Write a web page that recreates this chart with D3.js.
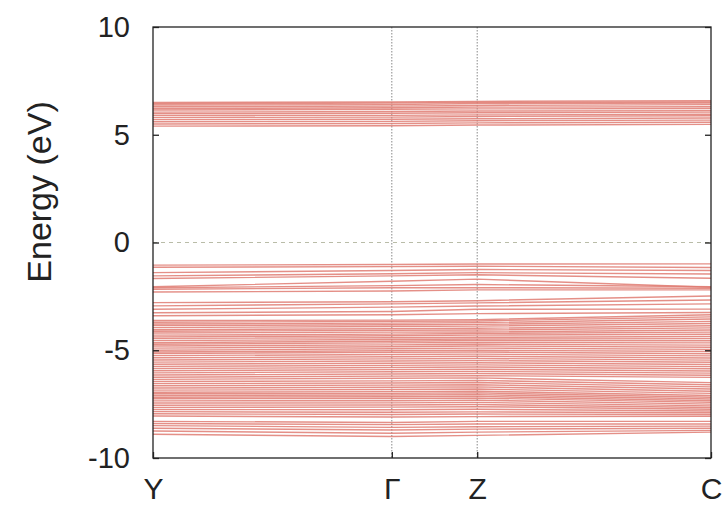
<!DOCTYPE html>
<html><head><meta charset="utf-8">
<script src="https://cdn.jsdelivr.net/npm/d3@7"></script>
<style>body{margin:0;background:#fff}svg{display:block}</style>
</head><body>
<script>
// high-symmetry k-points (fractional path positions) and labels
const kLabels = ["Y", "Γ", "Z", "C"];
const kPos = [0, 0.428, 0.581, 1];
const yTicks = [10, 5, 0, -5, -10];

// band energies (eV) at Y, Γ, Z, C
const conductionBands = [
  [6.50, 6.52, 6.55, 6.58], [6.44, 6.47, 6.50, 6.52], [6.38, 6.40, 6.45, 6.47],
  [6.30, 6.33, 6.36, 6.40], [6.22, 6.25, 6.28, 6.30], [6.15, 6.18, 6.20, 6.22],
  [6.05, 6.08, 6.10, 6.12], [5.98, 6.00, 6.02, 6.05], [5.90, 5.90, 5.92, 5.95],
  [5.80, 5.82, 5.85, 5.88], [5.70, 5.72, 5.74, 5.78], [5.60, 5.62, 5.65, 5.68],
  [5.50, 5.52, 5.55, 5.58], [5.40, 5.42, 5.45, 5.48]
];
const upperValenceBands = [
  [-1.05, -1.02, -1.00, -0.99], [-1.15, -1.12, -1.10, -1.16], [-1.40, -1.30, -1.25, -1.30],
  [-1.55, -1.45, -1.40, -1.46], [-1.67, -1.55, -1.50, -1.66], [-2.05, -1.80, -1.70, -2.08],
  [-2.10, -2.00, -1.95, -2.05], [-2.17, -2.10, -2.10, -2.12], [-2.30, -2.25, -2.20, -2.20],
  [-2.79, -2.75, -2.70, -2.48], [-2.94, -2.85, -2.80, -2.67], [-3.10, -3.00, -2.95, -2.85],
  [-3.26, -3.20, -3.10, -3.09], [-3.40, -3.35, -3.30, -3.25]
];
const lowerValenceBands = [
  [-3.62, -3.60, -3.58, -3.35], [-3.70, -3.66, -3.64, -3.45], [-3.78, -3.74, -3.72, -3.55],
  [-3.85, -3.82, -3.80, -3.66], [-3.95, -3.90, -3.88, -3.76], [-4.05, -4.00, -3.98, -3.86],
  [-4.12, -4.08, -4.06, -3.96], [-4.20, -4.16, -4.15, -4.06], [-4.30, -4.25, -4.22, -4.16],
  [-4.38, -4.33, -4.30, -4.26], [-4.45, -4.42, -4.40, -4.36], [-4.55, -4.50, -4.48, -4.46],
  [-4.65, -4.58, -4.55, -4.56], [-4.72, -4.66, -4.64, -4.66], [-4.80, -4.75, -4.72, -4.76],
  [-4.90, -4.84, -4.80, -4.86], [-5.00, -4.93, -4.90, -4.96], [-5.08, -5.02, -5.00, -5.06],
  [-5.15, -5.10, -5.08, -5.16], [-5.25, -5.20, -5.18, -5.26], [-5.35, -5.30, -5.28, -5.36],
  [-5.45, -5.40, -5.38, -5.46], [-5.55, -5.50, -5.48, -5.56], [-5.65, -5.60, -5.58, -5.66],
  [-5.75, -5.70, -5.68, -5.76], [-5.85, -5.80, -5.78, -5.86], [-5.95, -5.90, -5.88, -5.96],
  [-6.05, -6.00, -5.98, -6.06], [-6.15, -6.10, -6.08, -6.16], [-6.25, -6.20, -6.18, -6.26],
  [-6.35, -6.30, -6.28, -6.50], [-6.45, -6.42, -6.40, -6.60], [-6.55, -6.52, -6.50, -6.70],
  [-6.65, -6.62, -6.60, -6.80], [-6.75, -6.72, -6.70, -6.90], [-6.85, -6.82, -6.80, -7.00],
  [-6.95, -6.92, -6.90, -7.10], [-7.02, -7.00, -6.98, -7.18], [-7.10, -7.08, -7.06, -7.26],
  [-7.18, -7.16, -7.14, -7.34], [-7.25, -7.24, -7.22, -7.42], [-7.35, -7.34, -7.32, -7.50],
  [-7.45, -7.44, -7.42, -7.58], [-7.55, -7.54, -7.52, -7.66], [-7.65, -7.64, -7.62, -7.74],
  [-7.75, -7.76, -7.74, -7.82], [-7.85, -7.88, -7.86, -7.90], [-7.95, -7.98, -7.96, -7.98],
  [-8.05, -8.10, -8.08, -8.06], [-8.30, -8.35, -8.30, -8.30], [-8.40, -8.45, -8.42, -8.42],
  [-8.50, -8.58, -8.55, -8.52], [-8.62, -8.70, -8.66, -8.62], [-8.75, -8.85, -8.80, -8.72],
  [-8.90, -9.00, -8.95, -8.80]
];

const W = 726, H = 509;
const m = {left: 153, right: 15, top: 27, bottom: 51};
const svg = d3.select("body").append("svg").attr("width", W).attr("height", H);
const x = d3.scaleLinear().domain([0, 1]).range([m.left, W - m.right]);
const y = d3.scaleLinear().domain([-10, 10]).range([H - m.bottom, m.top]);
const font = "'Liberation Sans', Arial, sans-serif";

// zero line
svg.append("line").attr("x1", x(0)).attr("x2", x(1)).attr("y1", y(0)).attr("y2", y(0))
  .attr("stroke", "#b9bca8").attr("stroke-width", 1).attr("stroke-dasharray", "4,4");
// vertical k-lines
svg.selectAll("line.kl").data(kPos.slice(1, -1)).join("line").attr("class", "kl")
  .attr("x1", d => x(d)).attr("x2", d => x(d)).attr("y1", y(10)).attr("y2", y(-10))
  .attr("stroke", "#888").attr("stroke-width", 1).attr("stroke-dasharray", "1.5,1.5");

// bands
const allBands = conductionBands.concat(upperValenceBands, lowerValenceBands);
const line = d3.line().x((d, i) => x(kPos[i])).y(d => y(d));
svg.append("g").selectAll("path").data(allBands).join("path")
  .attr("d", line).attr("fill", "none")
  .attr("stroke", "#df7b72").attr("stroke-width", 1.4).attr("stroke-opacity", 0.85);

// frame
svg.append("rect").attr("x", x(0)).attr("y", y(10)).attr("width", x(1) - x(0)).attr("height", y(-10) - y(10))
  .attr("fill", "none").attr("stroke", "#222").attr("stroke-width", 1.3);

// y axis (left + right inward ticks)
const yl = svg.append("g").attr("transform", `translate(${x(0)},0)`)
  .call(d3.axisLeft(y).tickValues(yTicks).tickSize(-6).tickPadding(23).tickFormat(d => String(d)));
const yr = svg.append("g").attr("transform", `translate(${x(1)},0)`)
  .call(d3.axisRight(y).tickValues(yTicks).tickSize(-6).tickFormat(""));
// x axis (bottom inward ticks)
const xb = svg.append("g").attr("transform", `translate(0,${y(-10)})`)
  .call(d3.axisBottom(x).tickValues(kPos).tickSize(-6).tickPadding(20).tickFormat((d, i) => kLabels[i]));
[yl, yr, xb].forEach(g => {
  g.select(".domain").remove();
  g.selectAll(".tick line").attr("stroke", "#222").attr("stroke-width", 1.3);
  g.selectAll("text").attr("font-family", font).attr("font-size", 29).attr("fill", "#222");
});
xb.selectAll(".tick text").attr("font-size", 30);

svg.append("text").attr("transform", `translate(51,192) rotate(-90)`)
  .attr("text-anchor", "middle").attr("font-family", font).attr("font-size", 34).attr("fill", "#222")
  .text("Energy (eV)");
</script>
</body></html>
